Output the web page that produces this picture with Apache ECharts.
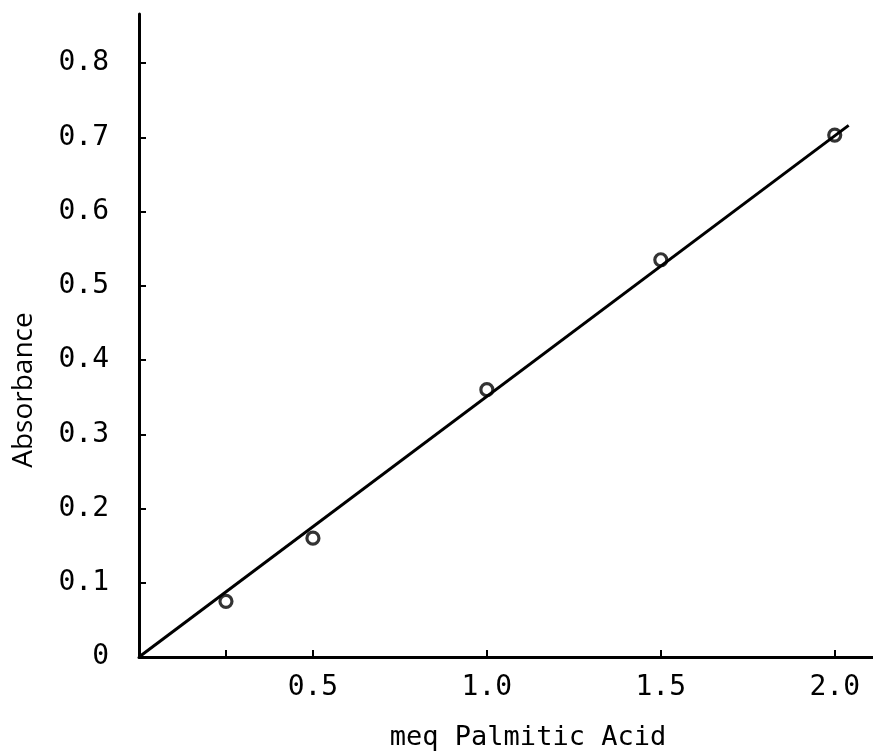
<!DOCTYPE html>
<html>
<head>
<meta charset="utf-8">
<script src="https://cdn.jsdelivr.net/npm/echarts@6/dist/echarts.min.js"></script>
<style>
  html, body { margin: 0; padding: 0; background: #fff; }
  #chart { width: 873px; height: 756px; }
</style>
</head>
<body>
<div id="chart"></div>
<script>
// Palmitic acid calibration: absorbance vs. milliequivalents
const meqPalmitic = [0.25, 0.5, 1.0, 1.5, 2.0];
const absorbance = [0.075, 0.16, 0.36, 0.535, 0.703];
// Calibration line through the origin
const fitLine = [[0, 0], [2.04, 0.716]];

const xTickValues = [0.25, 0.5, 1.0, 1.5, 2.0];
const xLabelValues = [0.5, 1.0, 1.5, 2.0];
const yTickValues = [0.1, 0.2, 0.3, 0.4, 0.5, 0.6, 0.7, 0.8];
const yLabelValues = [0, 0.1, 0.2, 0.3, 0.4, 0.5, 0.6, 0.7, 0.8];

const xTitle = 'meq Palmitic Acid';
const yTitle = 'Absorbance';

const monoFont = '"DejaVu Sans Mono", "Liberation Mono", monospace';

const chart = echarts.init(document.getElementById('chart'), null, { renderer: 'canvas' });

const fmt = v => (v === 0 ? '0' : v.toFixed(1));

chart.setOption({
  animation: false,
  backgroundColor: '#fff',
  grid: { left: 139, top: 14, right: 0, bottom: 99, containLabel: false },
  xAxis: {
    type: 'value',
    min: 0,
    max: 2.11,
    splitLine: { show: false },
    axisLine: { lineStyle: { color: '#000', width: 3 } },
    axisTick: {
      show: true, inside: true, length: 7,
      lineStyle: { color: '#000', width: 2 },
      customValues: xTickValues
    },
    axisLabel: {
      customValues: xLabelValues,
      formatter: fmt,
      color: '#000',
      fontFamily: monoFont,
      fontSize: 28,
      margin: 17
    }
  },
  yAxis: {
    type: 'value',
    min: 0,
    max: 0.866,
    splitLine: { show: false },
    axisLine: { lineStyle: { color: '#000', width: 3 } },
    axisTick: {
      show: true, inside: true, length: 7,
      lineStyle: { color: '#000', width: 2 },
      customValues: yTickValues
    },
    axisLabel: {
      customValues: yLabelValues,
      formatter: fmt,
      color: '#000',
      fontFamily: monoFont,
      fontSize: 28,
      margin: 30
    }
  },
  series: [
    {
      type: 'line',
      data: fitLine,
      symbol: 'none',
      lineStyle: { color: '#000', width: 3 },
      z: 2
    },
    {
      type: 'scatter',
      data: meqPalmitic.map((x, i) => [x, absorbance[i]]),
      symbol: 'circle',
      symbolSize: 12,
      itemStyle: { color: 'rgba(255,255,255,0)', borderColor: '#000', borderWidth: 3.2 },
      z: 3
    }
  ],
  graphic: [
    {
      type: 'text',
      x: 528, y: 738,
      style: {
        text: xTitle,
        fill: '#000',
        font: '27px ' + monoFont,
        textAlign: 'center',
        textVerticalAlign: 'middle'
      }
    },
    {
      type: 'text',
      x: 24, y: 390,
      rotation: Math.PI / 2,
      style: {
        text: yTitle,
        fill: '#000',
        font: '28px "Open Sans", sans-serif',
        textAlign: 'center',
        textVerticalAlign: 'middle'
      }
    }
  ]
});
</script>
</body>
</html>
